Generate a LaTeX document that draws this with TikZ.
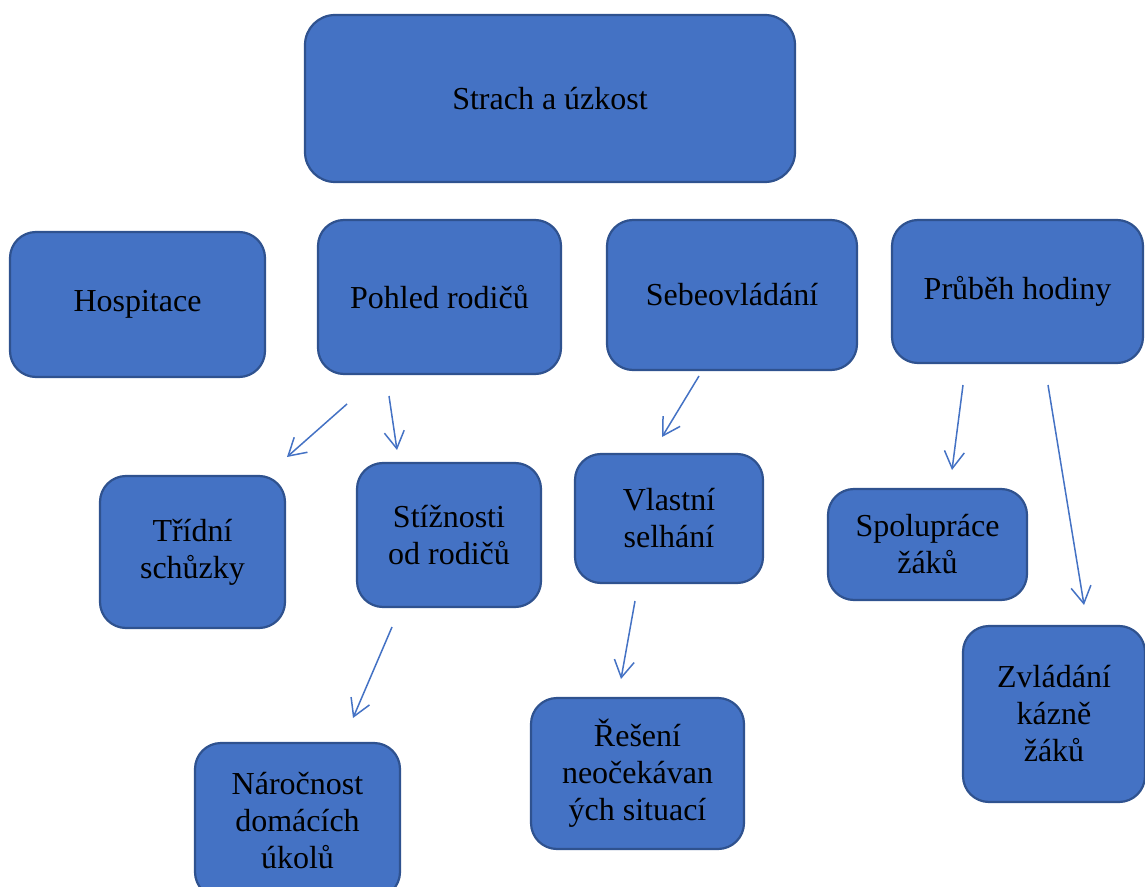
\documentclass[tikz,border=0pt]{standalone}
\usepackage{fontspec}
\setmainfont{Liberation Serif}
\usetikzlibrary{positioning, arrows.meta}
\definecolor{boxfill}{HTML}{4472C4}
\definecolor{boxline}{HTML}{2F528F}
\definecolor{arrowline}{HTML}{4472C4}

\begin{document}
\begin{tikzpicture}[x=0.5pt, y=-0.5pt,
    font=\fontsize{16}{18.5}\selectfont,
    topic/.style={draw=boxline, fill=boxfill, line width=1.1pt,
        rounded corners=13pt, align=center, inner sep=0pt,
        outer sep=0pt, text=black},
    link/.style={draw=arrowline, line width=0.75pt,
        -{Straight Barb[length=8.5pt, width=10pt]}}]
    \clip (0,0) rectangle (1145,887);
    % Top node
    \node[topic, rounded corners=15pt,
          minimum width=245pt, minimum height=83.5pt
          ] (strach) at (550,98.5) {Strach a úzkost};
    % Second row
    \node[topic,
          below=19pt of strach, xshift=-55.25pt,
          minimum width=121.5pt, minimum height=77pt
          ] (pohled) {Pohled rodičů};
    \node[topic,
          left=26.5pt of pohled, yshift=-3.75pt,
          minimum width=127.5pt, minimum height=72.5pt
          ] (hosp) {Hospitace};
    \node[topic,
          right=23pt of pohled, yshift=1pt,
          minimum width=125pt, minimum height=75pt
          ] (sebe) {Sebeovládání};
    \node[topic,
          right=17.5pt of sebe, yshift=1.75pt,
          minimum width=125.5pt, minimum height=71.5pt
          ] (prubeh) {Průběh hodiny};
    % Third row
    \node[topic,
          below=49.5pt of hosp, xshift=27.5pt,
          minimum width=92.5pt, minimum height=76pt
          ] (tridni) {Třídní\\schůzky};
    \node[topic,
          below=44.5pt of pohled, xshift=4.75pt,
          minimum width=92pt, minimum height=72pt
          ] (stiz) {Stížnosti\\od rodičů};
    \node[topic,
          below=42pt of sebe, xshift=-31.5pt,
          minimum width=94pt, minimum height=64.5pt
          ] (vlastni) {Vlastní\\selhání};
    \node[topic,
          below=63pt of prubeh, xshift=-45pt,
          minimum width=99.5pt, minimum height=55.5pt
          ] (spolu) {Spolupráce\\žáků};
    % Bottom row
    \node[topic,
          below=13pt of spolu, xshift=63.25pt,
          minimum width=91pt, minimum height=88pt
          ] (zvlad) {Zvládání\\kázně\\žáků};
    \node[topic,
          below=68pt of stiz, xshift=-75.75pt,
          minimum width=102.5pt, minimum height=77.5pt
          ] (naroc) {Náročnost\\domácích\\úkolů};
    \node[topic,
          below=57.5pt of vlastni, xshift=-15.75pt,
          minimum width=106.5pt, minimum height=75.5pt
          ] (resen) {Řešení\\neočekávan\\ých situací};
    % Free arrow ends
    \coordinate (p1) at (347,404);  \coordinate (t1) at (287,457);
    \coordinate (p2) at (389,396);  \coordinate (s2) at (397,450);
    \coordinate (e1) at (699,376);  \coordinate (v1) at (662,437);
    \coordinate (h1) at (963,385);  \coordinate (sp) at (952,470);
    \coordinate (h2) at (1048,385); \coordinate (zv) at (1084,605);
    \coordinate (st) at (392,627);  \coordinate (na) at (353,718);
    \coordinate (vs) at (635,601);  \coordinate (re) at (621,679);
    \draw[link] (p1) -- (t1);
    \draw[link] (p2) -- (s2);
    \draw[link] (e1) -- (v1);
    \draw[link] (h1) -- (sp);
    \draw[link] (h2) -- (zv);
    \draw[link] (st) -- (na);
    \draw[link] (vs) -- (re);
\end{tikzpicture}
\end{document}
